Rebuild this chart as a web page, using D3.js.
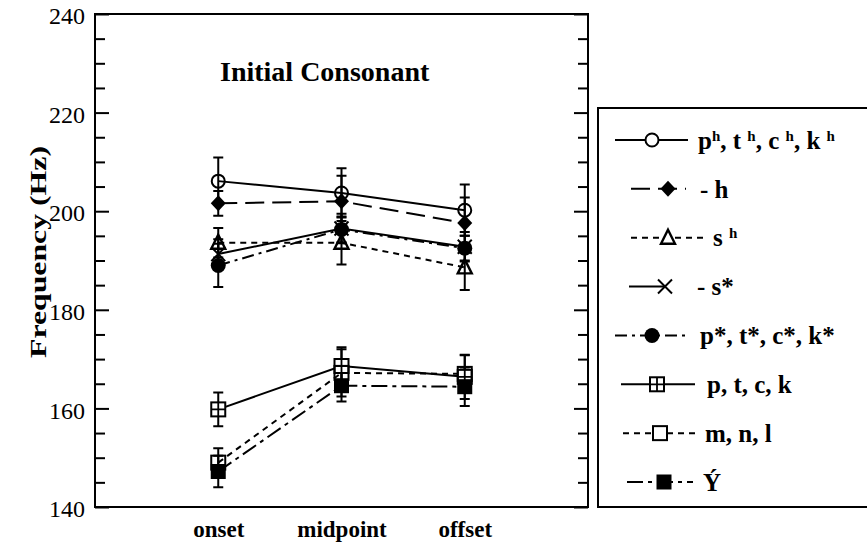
<!DOCTYPE html>
<html>
<head>
<meta charset="utf-8">
<script src="https://cdn.jsdelivr.net/npm/d3@7"></script>
<style>
body{margin:0;background:#fff;}
svg text{font-family:'Liberation Serif','Times New Roman',serif;fill:#000;}
</style>
</head>
<body>
<svg id="chart" width="867" height="547"></svg>
<script>
// values
const categories = ["onset", "midpoint", "offset"];
const yTicks = [140, 160, 180, 200, 220, 240];
const yMinor = [145, 150, 155, 165, 170, 175, 185, 190, 195, 205, 210, 215, 225, 230, 235];

const phValues    = [206.1, 203.7, 200.2];
const hValues     = [201.6, 202.0, 197.6];
const shValues    = [193.6, 193.6, 188.6];
const sStarValues = [191.3, 196.5, 192.8];
const pStarValues = [189.0, 196.3, 192.5];
const ptckValues  = [159.8, 168.6, 166.4];
const mnlValues   = [149.0, 167.2, 167.0];
const yValues     = [147.2, 164.6, 164.4];

const phErr    = [4.8, 5.0, 5.2];
const hErr     = [2.5, 5.2, 5.2];
const shErr    = [3.0, 4.4, 4.6];
const sStarErr = [3.0, 3.0, 3.0];
const pStarErr = [4.4, 2.6, 2.5];
const ptckErr  = [3.4, 3.8, 4.5];
const mnlErr   = [2.9, 4.8, 3.8];
const yErr     = [3.2, 3.2, 3.9];

// label pieces: [text, superscript?]
const phLabel    = [["p",0],["h",1],[", t ",0],["h",1],[", c ",0],["h",1],[", k ",0],["h",1]];
const hLabel     = [["- h",0]];
const shLabel    = [["s ",0],["h",1]];
const sStarLabel = [["- s*",0]];
const pStarLabel = [["p*, t*, c*, k*",0]];
const ptckLabel  = [["p, t, c, k",0]];
const mnlLabel   = [["m, n, l",0]];
const yLabel     = [["Ý",0]];

// styles and legend layout per series
const series = [
  {values: phValues,    err: phErr,    label: phLabel,    mark: "circle",   dash: null,       lx: [615, 688], mx: 652, tx: 698},
  {values: hValues,     err: hErr,     label: hLabel,     mark: "diamond",  dash: "19,8",     lx: [631, 686], mx: 668, tx: 700},
  {values: shValues,    err: shErr,    label: shLabel,    mark: "triangle", dash: "6,5",      lx: [631, 707], mx: 668, tx: 713},
  {values: sStarValues, err: sStarErr, label: sStarLabel, mark: "times",    dash: null,       lx: [629, 665], mx: 665, tx: 697},
  {values: pStarValues, err: pStarErr, label: pStarLabel, mark: "dot",      dash: "12,5,3,5", lx: [615, 688], mx: 652, tx: 700},
  {values: ptckValues,  err: ptckErr,  label: ptckLabel,  mark: "sqplus",   dash: null,       lx: [621, 695], mx: 657, tx: 707},
  {values: mnlValues,   err: mnlErr,   label: mnlLabel,   mark: "square",   dash: "6,5",      lx: [623, 697], mx: 660, tx: 705},
  {values: yValues,     err: yErr,     label: yLabel,     mark: "fsquare",  dash: "16,5,4,5", lx: [627, 693], mx: 664, tx: 703}
];

const svg = d3.select("#chart");
const mLeft = 95, mRight = 588, mTop = 14, mBottom = 507;

const x = d3.scalePoint().domain(categories).range([mLeft, mRight]).padding(1);
const y = d3.scaleLinear().domain([140, 240]).range([mBottom, mTop]);

function drawMark(g, type, cx, cy, legend) {
  const bg = legend ? "#fff" : "none";
  if (type === "circle") {
    g.append("circle").attr("cx", cx).attr("cy", cy).attr("r", 6.5)
      .attr("fill", bg).attr("stroke", "#000").attr("stroke-width", 2);
  } else if (type === "dot") {
    g.append("circle").attr("cx", cx).attr("cy", cy).attr("r", 7.5).attr("fill", "#000");
  } else if (type === "diamond") {
    g.append("path").attr("d", `M${cx},${cy-8}L${cx+7.5},${cy}L${cx},${cy+8}L${cx-7.5},${cy}Z`)
      .attr("fill", "#000");
  } else if (type === "triangle") {
    g.append("path").attr("d", `M${cx},${cy-8}L${cx+7},${cy+6}L${cx-7},${cy+6}Z`)
      .attr("fill", bg).attr("stroke", "#000").attr("stroke-width", 2.4);
  } else if (type === "times") {
    g.append("path").attr("d", `M${cx-7},${cy-7}L${cx+7},${cy+7}M${cx-7},${cy+7}L${cx+7},${cy-7}`)
      .attr("stroke", "#000").attr("stroke-width", 2);
  } else if (type === "sqplus") {
    g.append("rect").attr("x", cx-7).attr("y", cy-7).attr("width", 14).attr("height", 14)
      .attr("fill", "#fff").attr("stroke", "#000").attr("stroke-width", 2);
    g.append("path").attr("d", `M${cx-7},${cy}H${cx+7}M${cx},${cy-7}V${cy+7}`)
      .attr("stroke", "#000").attr("stroke-width", 1.8);
  } else if (type === "square") {
    g.append("rect").attr("x", cx-7).attr("y", cy-7).attr("width", 14).attr("height", 14)
      .attr("fill", bg).attr("stroke", "#000").attr("stroke-width", 2);
  } else if (type === "fsquare") {
    g.append("rect").attr("x", cx-7.5).attr("y", cy-7.5).attr("width", 15).attr("height", 15)
      .attr("fill", "#000");
  }
}

// frame
svg.append("rect").attr("x", mLeft).attr("y", mTop)
  .attr("width", mRight - mLeft).attr("height", mBottom - mTop)
  .attr("fill", "none").attr("stroke", "#000").attr("stroke-width", 2);

// inward ticks on both sides
function ticks(axis, at, values, size) {
  svg.append("g").attr("transform", `translate(${at},0)`)
    .call(axis(y).tickValues(values).tickSize(size).tickFormat(""))
    .call(g => g.select(".domain").remove())
    .selectAll("line").attr("stroke", "#000").attr("stroke-width", 2);
}
ticks(d3.axisRight, mLeft, yTicks, 14);
ticks(d3.axisRight, mLeft, yMinor, 10);
ticks(d3.axisLeft, mRight, yTicks, 14);
ticks(d3.axisLeft, mRight, yMinor, 10);

// tick labels
const yLab = svg.append("g").attr("transform", `translate(${mLeft},0)`)
  .call(d3.axisLeft(y).tickValues(yTicks).tickSize(0).tickPadding(10));
yLab.select(".domain").remove();
yLab.selectAll("text").attr("font-size", 24).attr("fill", "#000").attr("dy", "0.4em");

// x labels
const xLab = svg.append("g").attr("transform", `translate(0,${mBottom})`)
  .call(d3.axisBottom(x).tickSize(0).tickPadding(13));
xLab.select(".domain").remove();
xLab.selectAll("text").attr("font-size", 23).attr("font-weight", "bold")
  .attr("fill", "#000").attr("dy", "0.75em");

// axis title
svg.append("text")
  .attr("transform", "translate(38,252) rotate(-90)")
  .attr("text-anchor", "middle").attr("dy", "0.35em")
  .attr("font-size", 24).attr("font-weight", "bold")
  .attr("textLength", 212).attr("lengthAdjust", "spacingAndGlyphs")
  .text("Frequency (Hz)");

// chart title
svg.append("text").attr("x", 220).attr("y", 81)
  .attr("font-size", 28).attr("font-weight", "bold").text("Initial Consonant");

// lines
const line = d3.line().x((d, i) => x(categories[i])).y(d => y(d));
series.forEach(s => {
  svg.append("path").datum(s.values).attr("d", line)
    .attr("fill", "none").attr("stroke", "#000").attr("stroke-width", 2)
    .attr("stroke-dasharray", s.dash);
});

// error bars
series.forEach(s => {
  const g = svg.append("g");
  s.values.forEach((v, i) => {
    const cx = x(categories[i]);
    const hi = y(v + s.err[i]), lo = y(v - s.err[i]);
    g.append("path").attr("d", `M${cx},${hi}V${lo}M${cx-5},${hi}H${cx+5}M${cx-5},${lo}H${cx+5}`)
      .attr("stroke", "#000").attr("stroke-width", 2).attr("fill", "none");
  });
});
// markers
series.forEach(s => {
  const g = svg.append("g");
  s.values.forEach((v, i) => drawMark(g, s.mark, x(categories[i]), y(v), false));
});

// legend
svg.append("rect").attr("x", 598).attr("y", 108).attr("width", 300).attr("height", 399)
  .attr("fill", "#fff").attr("stroke", "#000").attr("stroke-width", 2);

const ly = d3.scaleLinear().domain([0, series.length - 1]).range([140, 482]);
series.forEach((s, i) => {
  const g = svg.append("g");
  const cy = ly(i);
  g.append("line").attr("x1", s.lx[0]).attr("x2", s.lx[1]).attr("y1", cy).attr("y2", cy)
    .attr("stroke", "#000").attr("stroke-width", 2).attr("stroke-dasharray", s.dash);
  drawMark(g, s.mark, s.mx, cy, true);
  const t = g.append("text").attr("x", s.tx).attr("y", cy).attr("dy", "0.35em")
    .attr("font-size", 25).attr("font-weight", "bold");
  s.label.forEach(p => {
    const ts = t.append("tspan").text(p[0]);
    if (p[1]) ts.attr("font-size", 15).attr("baseline-shift", "55%");
  });
});
</script>
</body>
</html>
